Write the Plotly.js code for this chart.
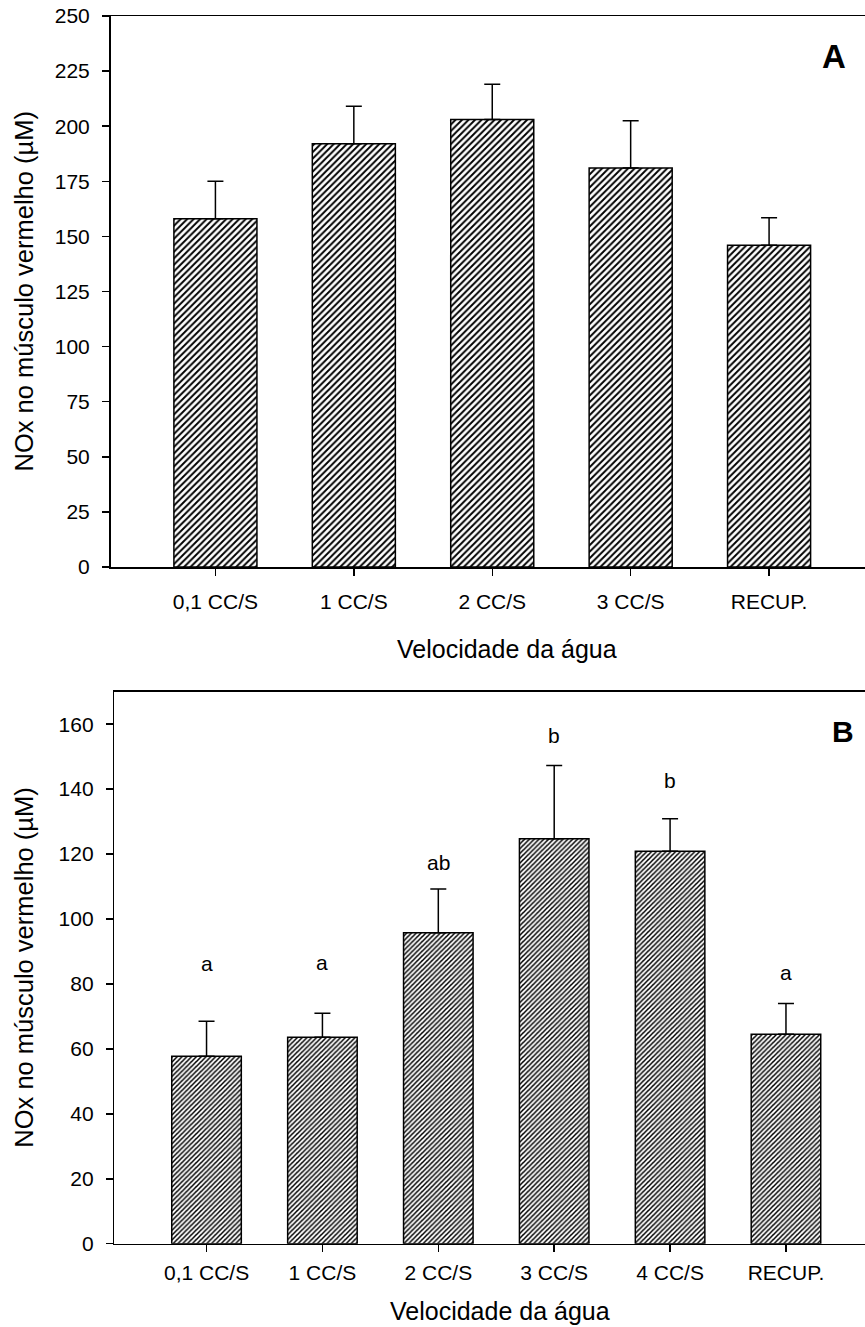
<!DOCTYPE html>
<html>
<head>
<meta charset="utf-8">
<script src="https://cdn.plot.ly/plotly-3.0.1.min.js"></script>
<style>html,body{margin:0;padding:0;background:#fff;}#chart{width:865px;height:1327px;}</style>
</head>
<body>
<div id="chart"></div>
<script>
// ---- Data (panel A) ----
var catsA = ['0,1 CC/S', '1 CC/S', '2 CC/S', '3 CC/S', 'RECUP.'];
var meanA = [158, 192, 203, 181, 146];
var semA  = [17, 17, 16, 21.5, 12.5];

// ---- Data (panel B) ----
var catsB = ['0,1 CC/S', '1 CC/S', '2 CC/S', '3 CC/S', '4 CC/S', 'RECUP.'];
var meanB = [57.7, 63.6, 95.8, 124.7, 120.9, 64.5];
var semB  = [10.8, 7.4, 13.4, 22.6, 10.0, 9.5];
var lettersB = ['a', 'a', 'ab', 'b', 'b', 'a'];
var letterLevelB = [86.4, 86.7, 117.4, 156.5, 142.6, 83.4];

var yTitle = 'NOx no músculo vermelho (µM)';
var xTitle = 'Velocidade da água';

var FONT = 'Liberation Sans, Arial, sans-serif';
var W = 865, H = 1327;

function barTrace(cats, vals, errs, xa, ya, psize, psol) {
  return {
    type: 'bar', x: cats, y: vals, xaxis: xa, yaxis: ya, width: 0.6,
    marker: {
      color: 'white',
      line: {color: 'black', width: 1.5},
      pattern: {shape: '/', fgcolor: 'black', bgcolor: 'white', size: psize, solidity: psol}
    },
    error_y: {type: 'data', symmetric: false, array: errs,
      arrayminus: errs.map(function () { return 0; }),
      color: 'black', thickness: 1.5, width: 8},
    hoverinfo: 'none', showlegend: false
  };
}

var traces = [
  barTrace(catsA, meanA, semA, 'x', 'y', 4.6, 0.42),
  barTrace(catsB, meanB, semB, 'x2', 'y2', 3.4, 0.45)
];

function px2fx(p) { return p / W; }
function py2fy(p) { return (H - p) / H; }

var axLine = {showline: true, linecolor: 'black', linewidth: 1.5, showgrid: false, zeroline: false,
  ticks: 'outside', ticklen: 7, tickwidth: 1.5, tickcolor: 'black', fixedrange: true};

function merge(a, b) { var o = {}; for (var k in a) o[k] = a[k]; for (var k2 in b) o[k2] = b[k2]; return o; }

var layout = {
  width: W, height: H,
  margin: {l: 0, r: 0, t: 0, b: 0, pad: 0},
  paper_bgcolor: 'white', plot_bgcolor: 'white',
  font: {family: FONT, color: 'black', size: 20.5},
  xaxis: merge(axLine, {
    domain: [px2fx(110.5), 1], anchor: 'y', type: 'category',
    range: [-0.758, 4.693], mirror: true,
    tickfont: {size: 21, family: FONT}, ticklabelstandoff: 8
  }),
  yaxis: merge(axLine, {
    domain: [py2fy(567), py2fy(16)], anchor: 'x',
    range: [0, 250], tickvals: [0, 25, 50, 75, 100, 125, 150, 175, 200, 225, 250],
    tickfont: {size: 21, family: FONT}, ticklabelstandoff: 8
  }),
  xaxis2: merge(axLine, {
    domain: [px2fx(114.3), 1], anchor: 'y2', type: 'category',
    range: [-0.796, 5.682], mirror: true,
    tickfont: {size: 21, family: FONT}, ticklabelstandoff: 3
  }),
  yaxis2: merge(axLine, {
    domain: [py2fy(1243.7), py2fy(691.7)], anchor: 'x2',
    range: [0, 170], tickvals: [0, 20, 40, 60, 80, 100, 120, 140, 160],
    tickfont: {size: 21, family: FONT}, ticklabelstandoff: 8
  }),
  annotations: []
};

// axis titles
layout.annotations.push({xref: 'paper', yref: 'paper', x: px2fx(507), y: py2fy(649),
  text: xTitle, showarrow: false, xanchor: 'center', yanchor: 'middle', font: {size: 25, family: FONT}});
layout.annotations.push({xref: 'paper', yref: 'paper', x: px2fx(500), y: py2fy(1311),
  text: xTitle, showarrow: false, xanchor: 'center', yanchor: 'middle', font: {size: 25, family: FONT}});
layout.annotations.push({xref: 'paper', yref: 'paper', x: px2fx(23), y: py2fy(291.5), textangle: -90,
  text: yTitle, showarrow: false, xanchor: 'center', yanchor: 'middle', font: {size: 25.5, family: FONT}});
layout.annotations.push({xref: 'paper', yref: 'paper', x: px2fx(24), y: py2fy(967.7), textangle: -90,
  text: yTitle, showarrow: false, xanchor: 'center', yanchor: 'middle', font: {size: 25.5, family: FONT}});

// panel letters
layout.annotations.push({xref: 'paper', yref: 'paper', x: px2fx(833.7), y: py2fy(57), text: '<b>A</b>',
  showarrow: false, xanchor: 'center', yanchor: 'middle', font: {size: 33, family: FONT}});
layout.annotations.push({xref: 'paper', yref: 'paper', x: px2fx(843.4), y: py2fy(731), text: '<b>B</b>',
  showarrow: false, xanchor: 'center', yanchor: 'middle', font: {size: 30, family: FONT}});

// significance letters
for (var i = 0; i < catsB.length; i++) {
  layout.annotations.push({xref: 'x2', yref: 'y2', x: catsB[i], y: letterLevelB[i], text: lettersB[i],
    showarrow: false, xanchor: 'center', yanchor: 'middle', font: {size: 21, family: FONT}});
}

Plotly.newPlot('chart', traces, layout, {displayModeBar: false, staticPlot: true});
</script>
</body>
</html>
